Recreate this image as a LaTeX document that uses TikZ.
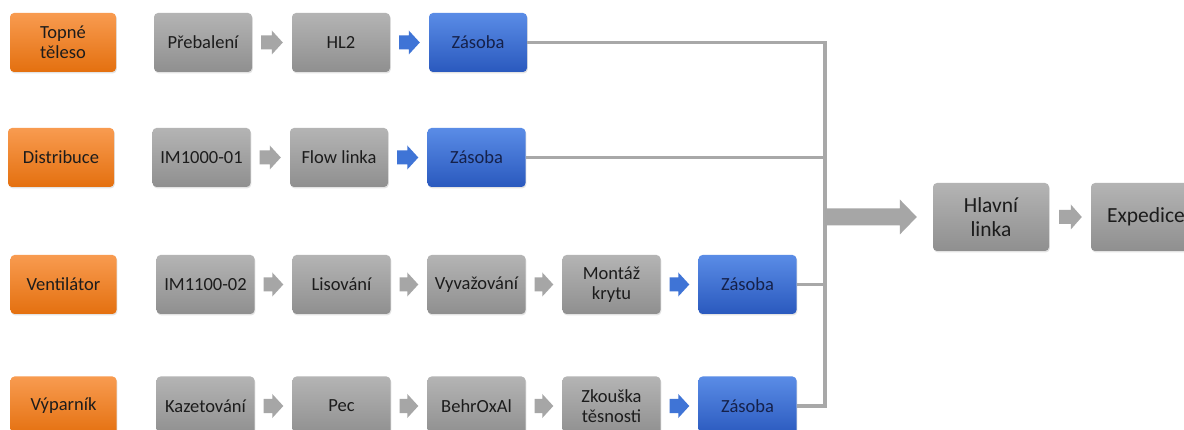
\documentclass[tikz,border=0pt]{standalone}
\usepackage{fontspec}
\setmainfont{Carlito}
\usetikzlibrary{shadows,calc}

\definecolor{or1}{HTML}{F89B50}
\definecolor{or2}{HTML}{E4700F}
\definecolor{gr1}{HTML}{B4B4B4}
\definecolor{gr2}{HTML}{8F8F8F}
\definecolor{bl1}{HTML}{5A8CE6}
\definecolor{bl2}{HTML}{2A59BE}
\definecolor{ink}{HTML}{1C1C1C}
\definecolor{navy}{HTML}{15214A}
\definecolor{wirecol}{HTML}{A8A8A8}
\definecolor{arrgray}{HTML}{A6A6A6}
\definecolor{arrblue}{HTML}{3F74D6}

% block arrow from #1 to #2, colour #3, gaps #4/#5, half shaft #6, half head #7, head length #8
\newcommand\blockarr[8]{%
  \fill[#3] let \p1=(#1), \p2=(#2) in
    (\x1+#4,\y1+#6) -- (\x2-#5-#8,\y1+#6) -- (\x2-#5-#8,\y1+#7) --
    (\x2-#5,\y1) -- (\x2-#5-#8,\y1-#7) -- (\x2-#5-#8,\y1-#6) --
    (\x1+#4,\y1-#6) -- cycle;}
\newcommand\steparr[3]{\blockarr{#1}{#2}{#3}{9pt}{9pt}{7pt}{12pt}{11pt}}

\tikzset{
  box/.style={rounded corners=4pt, minimum width=98pt, minimum height=59pt,
    align=center, inner sep=2pt, text=ink,
    font=\fontsize{18.5}{20}\selectfont,
    drop shadow={shadow xshift=0.8pt, shadow yshift=-1.4pt, opacity=0.22}},
  srcbox/.style={box, top color=or1, bottom color=or2, minimum width=106pt},
  stagebox/.style={box, top color=gr1, bottom color=gr2},
  stockbox/.style={box, top color=bl1, bottom color=bl2, text=navy},
  bigbox/.style={stagebox, minimum width=116pt, minimum height=68pt,
    font=\fontsize{21.5}{24}\selectfont},
  wire/.style={draw=wirecol, line width=3.6pt, line join=miter}
}

\begin{document}
\begin{tikzpicture}[x=1pt,y=-1pt]
\clip (0,0) rectangle (1184,430);
\fill[white] (0,0) rectangle (1184,430);

% sources
\node[srcbox] (s1) at (63,42.5)   {Topné\\těleso};
\node[srcbox] (s2) at (61,157.5)  {Distribuce};
\node[srcbox] (s3) at (63.5,284.5) {Ventilátor};
\node[srcbox] (s4) at (63.5,406)   {Výparník};

% row 1
\node[stagebox] (a1) at (203,42.5) {Přebalení};
\node[stagebox] (a2) at (341,42.5) {HL2};
\node[stockbox] (a3) at (478,42.5) {Zásoba};
% row 2
\node[stagebox] (b1) at (201.5,157.5) {IM1000-01};
\node[stagebox] (b2) at (339,157.5)   {Flow linka};
\node[stockbox] (b3) at (476.5,157.5) {Zásoba};
% row 3
\node[stagebox] (c1) at (205.5,284.5) {IM1100-02};
\node[stagebox] (c2) at (341.5,284.5) {Lisování};
\node[stagebox] (c3) at (476.5,284.5) {Vyvažování};
\node[stagebox] (c4) at (611.5,284.5) {Montáž\\krytu};
\node[stockbox] (c5) at (747.5,284.5) {Zásoba};
% row 4
\node[stagebox] (d1) at (205.5,406) {Kazetování};
\node[stagebox] (d2) at (341.5,406) {Pec};
\node[stagebox] (d3) at (476.5,406) {BehrOxAl};
\node[stagebox] (d4) at (611.5,406) {Zkouška\\těsnosti};
\node[stockbox] (d5) at (747.5,406) {Zásoba};

% final stages
\node[bigbox] (hl) at (991,217)  {Hlavní\\linka};
\node[bigbox, minimum width=110pt] (ex) at (1146,217) {Expedice};

% arrows inside the rows
\steparr{a1.east}{a2.west}{arrgray}
\steparr{a2.east}{a3.west}{arrblue}
\steparr{b1.east}{b2.west}{arrgray}
\steparr{b2.east}{b3.west}{arrblue}
\steparr{c1.east}{c2.west}{arrgray}
\steparr{c2.east}{c3.west}{arrgray}
\steparr{c3.east}{c4.west}{arrgray}
\steparr{c4.east}{c5.west}{arrblue}
\steparr{d1.east}{d2.west}{arrgray}
\steparr{d2.east}{d3.west}{arrgray}
\steparr{d3.east}{d4.west}{arrgray}
\steparr{d4.east}{d5.west}{arrblue}

% collecting bus
\coordinate (bus) at (825,0);
\draw[wire] (a3.east) -- (a3.east -| bus) -- (d5.east -| bus) -- (d5.east);
\draw[wire] (b3.east) -- (b3.east -| bus);
\draw[wire] (c5.east) -- (c5.east -| bus);

% into the main line and on to dispatch
\coordinate (busmid) at (hl.west -| bus);
\blockarr{busmid}{hl.west}{arrgray}{0pt}{16pt}{8.5pt}{17.5pt}{17pt}
\blockarr{hl.east}{ex.west}{arrgray}{10pt}{9pt}{7pt}{12.5pt}{11pt}
\end{tikzpicture}
\end{document}
